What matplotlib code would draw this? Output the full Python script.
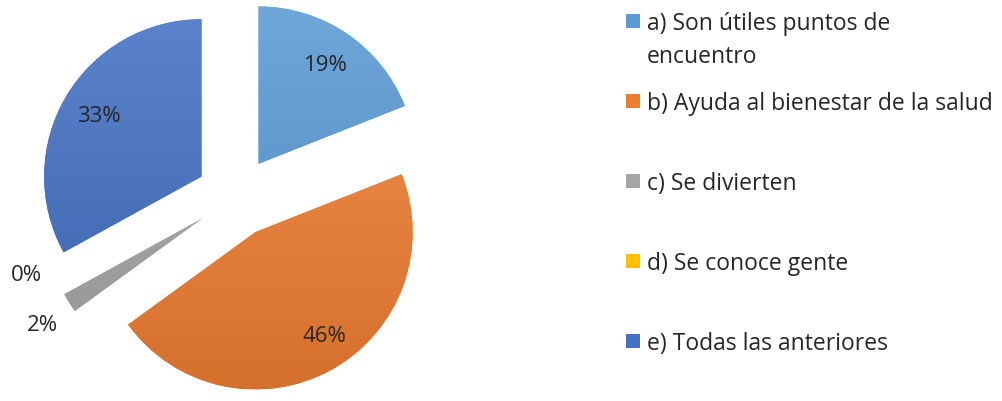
import numpy as np
import matplotlib
matplotlib.use('Agg')
import matplotlib.pyplot as plt
from matplotlib.colors import to_rgb
from matplotlib.patches import Rectangle

labels = ['a) Son útiles puntos de\nencuentro',
          'b) Ayuda al bienestar de la salud',
          'c) Se divierten',
          'd) Se conoce gente',
          'e) Todas las anteriores']
values = [19, 46, 2, 0, 33]
colors = ['#5B9BD5', '#ED7D31', '#A5A5A5', '#FFC000', '#4472C4']

plt.rcParams['font.family'] = ['Open Sans', 'DejaVu Sans']
txt_color = '#262626'

fig = plt.figure(figsize=(10.03, 4.02), dpi=100)
ax = fig.add_axes([0, -32 / 402, 472 / 1003, 472 / 402])
ax.axis('off')

wedges, texts, autotexts = ax.pie(
    values, colors=colors, startangle=90, counterclock=False,
    explode=[0.255] * len(values), autopct='%1.0f%%', pctdistance=0.76,
    wedgeprops=dict(linewidth=0),
    textprops=dict(color=txt_color, fontsize=16))


def shade(c, f):
    c = np.array(to_rgb(c))
    if f > 0:
        return c + (1 - c) * f
    return c * (1 + f)


# vertical gradient on each slice, lighter at the top
for w, c in zip(wedges, colors):
    cx, cy = w.center
    top, bot = shade(c, 0.12), shade(c, -0.10)
    t = np.linspace(0, 1, 256)[:, None]
    grad = (top[None, :] * (1 - t) + bot[None, :] * t)[:, None, :]
    im = ax.imshow(grad, extent=(cx - 1, cx + 1, cy - 1, cy + 1),
                   aspect='auto', origin='upper', zorder=w.get_zorder() + 0.1,
                   interpolation='bilinear')
    im.set_clip_path(w)

for t in autotexts:
    t.set_zorder(5)

# nudge the big slice label, small slices get their labels outside
bx, by = autotexts[1].get_position()
autotexts[1].set_position((bx + 0.07, by + 0.01))
autotexts[2].set_position((-1.23, -0.81))
autotexts[3].set_position((-1.33, -0.49))
ax.set_xlim(-1.5, 1.5)
ax.set_ylim(-1.5, 1.5)

# legend drawn by hand
W, H = 1003, 402
for i, (lab, c) in enumerate(zip(labels, colors)):
    y = 22 + 80 * i
    fig.patches.append(Rectangle((626 / W, 1 - (y + 7) / H), 14 / W, 14 / H,
                                 transform=fig.transFigure, facecolor=c,
                                 edgecolor='none'))
    fig.text(647 / W, 1 - (y - 10) / H, lab, fontsize=16.5, color=txt_color,
             va='top', ha='left', linespacing=1.5)

fig.savefig('out.png', dpi=100)
